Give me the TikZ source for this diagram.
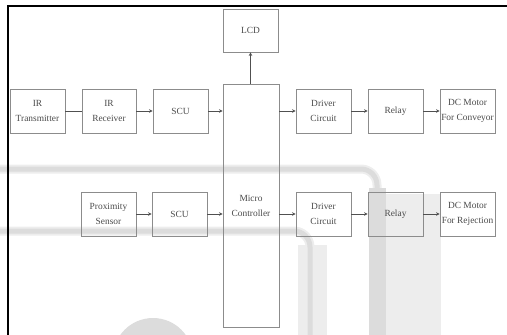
\documentclass[tikz,border=0pt]{standalone}
\usepackage{xcolor}
\usepackage{fontspec}
\setmainfont{Liberation Serif}
\usepackage{tikz}
\usetikzlibrary{arrows.meta,calc}
\definecolor{kutuGri}{HTML}{8C8C8C}
\definecolor{yaziGri}{HTML}{4A4A4A}
\definecolor{okGri}{HTML}{505050}
\definecolor{filigranKoyu}{HTML}{DCDCDC}
\definecolor{filigranAcik}{HTML}{EDEDED}

\tikzset{
  blok/.style={draw=kutuGri,line width=0.9pt,minimum width=55,minimum height=44,
    inner sep=0pt,align=center,text=yaziGri,font=\fontsize{9.4}{15}\selectfont},
  ok/.style={draw=okGri,line width=0.8pt,-{Stealth[length=3.5pt,width=3.5pt]}},
  bag/.style={draw=okGri,line width=0.8pt}
}

\begin{document}
\begin{tikzpicture}[x=1pt,y=-1pt]
\useasboundingbox (0,0) rectangle (507,335);
% filigran
\draw[filigranAcik,line width=9,rounded corners=16] (0,169)--(377,169)--(377,340);
\draw[filigranKoyu,line width=5,rounded corners=16] (0,169)--(377,169)--(377,340);
\fill[filigranAcik] (385,194) rectangle (441,340);
\fill[filigranKoyu] (369,188) rectangle (386,340);
\fill[filigranAcik] (298,245) rectangle (327,340);
\draw[filigranAcik,line width=9,rounded corners=16] (0,231)--(310,231)--(310,340);
\draw[filigranKoyu,line width=5,rounded corners=16] (0,231)--(310,231)--(310,340);
\fill[filigranKoyu] (153,358) circle (40);
% cerceve
\draw[black,line width=1.6pt] (8,335)--(8,6)--(507,6);
% ust satir
\node[blok] (irTx) at (37.5,111) {IR\\Transmitter};
\node[blok,minimum width=54] (irRx) at (109,111) {IR\\Receiver};
\node[blok] (scuA) at (180.5,111) {SCU};
\node[blok,minimum width=56,minimum height=243] (mcu) at (251,205.5) {Micro\\Controller};
\node[blok,minimum height=43] (lcd) at (250.5,30.5) {LCD};
\node[blok] (drvA) at (323.5,111) {Driver\\Circuit};
\node[blok] (rlyA) at (395.5,111) {Relay};
\node[blok] (motA) at (467.5,111) {DC Motor\\For Conveyor};
% alt satir
\node[blok] (prox) at (108.5,214) {Proximity\\Sensor};
\node[blok] (scuB) at (179.5,214) {SCU};
\node[blok] (drvB) at (323.5,214) {Driver\\Circuit};
\node[blok] (rlyB) at (395.5,214) {Relay};
\node[blok] (motB) at (467.5,214) {DC Motor\\For Rejection};
% baglantilar
\draw[bag] (irTx)--(irRx);
\draw[ok] (irRx)--(scuA);
\draw[ok] (scuA.east)--(scuA.east -| mcu.west);
\draw[ok] (scuA.east -| mcu.east)--(drvA.west);
\draw[ok] (drvA)--(rlyA);
\draw[ok] (rlyA)--(motA);
\draw[ok] (mcu.north -| lcd.south)--(lcd.south);
\draw[ok] (prox)--(scuB);
\draw[ok] (scuB.east)--(scuB.east -| mcu.west);
\draw[ok] (scuB.east -| mcu.east)--(drvB.west);
\draw[ok] (drvB)--(rlyB);
\draw[ok] (rlyB)--(motB);
\end{tikzpicture}
\end{document}
